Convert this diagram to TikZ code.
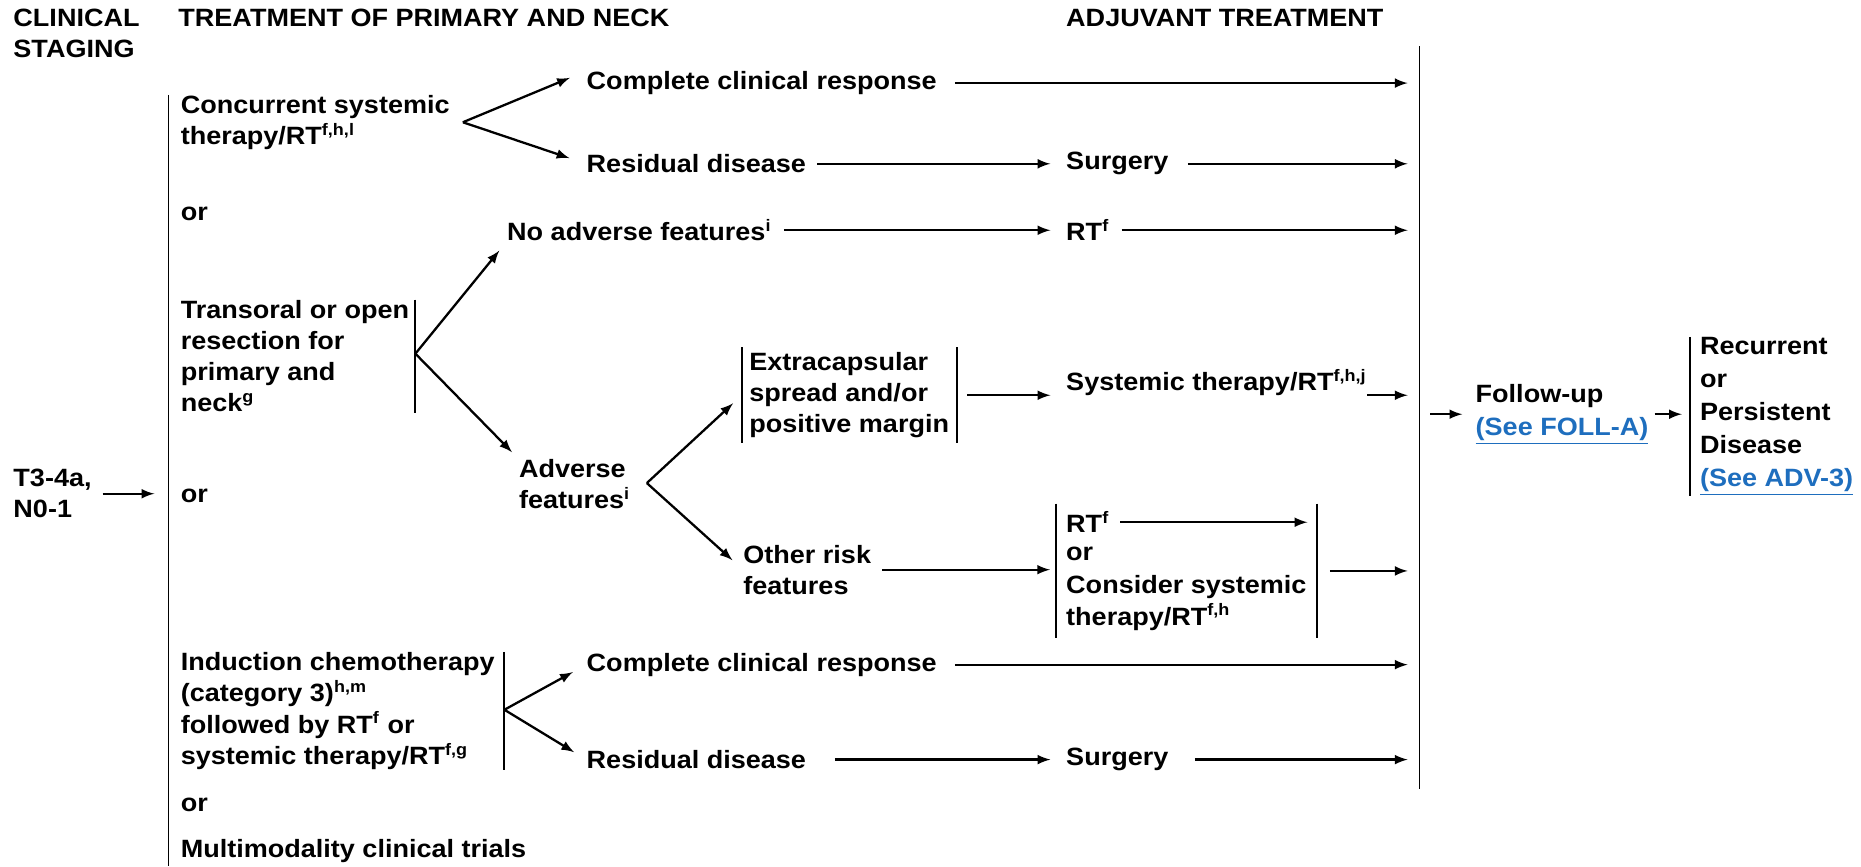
\documentclass[tikz,border=0pt]{standalone}
\usepackage{fontspec}
\setmainfont{Liberation Sans}[FakeStretch=1.08]
\usepackage{tikz}
\usetikzlibrary{fit}
\definecolor{linkblue}{RGB}{30,110,190}

\tikzset{
  txt/.style={font=\fontsize{12}{15}\selectfont\bfseries, inner sep=0pt, anchor=west, align=left},
  widetxt/.style={txt, font=\fontsize{12}{15.8}\selectfont\bfseries},
  arr/.style={->, >=latex, line width=1.1pt},
  bar/.style={line width=0.9pt}
}

\begin{document}
\begin{tikzpicture}[x=0.02cm, y=-0.02cm]
    \useasboundingbox (0,0) rectangle (1568,730);

    % 1. Column headings
    \node[txt] (hstage) at (11,28) {CLINICAL\\STAGING};
    \node[txt] (htreat) at (150,15) {TREATMENT OF PRIMARY AND NECK};
    \node[txt] (hadj) at (898,15) {ADJUVANT TREATMENT};

    % 2. Staging and the big brackets
    \node[txt] (stage) at (11,416) {T3-4a,\\N0-1};
    \coordinate (lbarT) at (142,80);
    \coordinate (lbarB) at (142,730);
    \coordinate (rbarT) at (1196,39);
    \coordinate (rbarB) at (1196,665);
    \draw[bar] (lbarT) -- (lbarB);
    \draw[bar] (rbarT) -- (rbarB);
    \draw[arr, shorten <=0.18cm, shorten >=0.24cm] (stage.east) -- (stage.east -| lbarT);

    % 3. Primary treatment options
    \node[txt] (opt1) at (152,103) {Concurrent systemic\\therapy/RT\textsuperscript{f,h,l}};
    \node[txt] (or1) at (152,180) {or};
    \node[txt] (opt2) at (152,300) {Transoral or open\\resection for\\primary and\\neck\textsuperscript{g}};
    \node[txt] (or2) at (152,418) {or};
    \node[txt] (opt3) at (152,599) {Induction chemotherapy\\(category 3)\textsuperscript{h,m}\\followed by RT\textsuperscript{f} or\\systemic therapy/RT\textsuperscript{f,g}};
    \node[txt] (or3) at (152,678) {or};
    \node[txt] (opt4) at (152,717) {Multimodality clinical trials};

    % fork points
    \coordinate (f1) at (390,103);
    \coordinate (f2) at (350,298);
    \coordinate (f3) at (545,407);
    \coordinate (f4) at (425,598);
    \draw[bar] (f2 |- opt2.north) -- (f2 |- opt2.south);
    \draw[bar] (f4 |- opt3.north) -- (f4 |- opt3.south);

    % 4. Responses and adjuvant choices
    \node[txt] (ccr1) at (494,70) {Complete clinical response};
    \node[txt] (rd1) at (494,138) {Residual disease};
    \node[txt] (surg1) at (898,138) {Surgery};
    \node[txt] (noadv) at (427,194) {No adverse features\textsuperscript{i}};
    \node[txt] (rt1) at (898,194) {RT\textsuperscript{f}};
    \node[txt] (adv) at (437,408) {Adverse\\features\textsuperscript{i}};
    \node[txt, inner xsep=0.12cm, inner ysep=0.08cm] (exc) at (625,333) {Extracapsular\\spread and/or\\positive margin};
    \node[txt] (sys) at (898,322) {Systemic therapy/RT\textsuperscript{f,h,j}};
    \node[txt] (other) at (626,480) {Other risk\\features};
    \node[txt] (rtf) at (898,440) {RT\textsuperscript{f}};
    \node[txt] (or4) at (898,467) {or};
    \node[txt] (cons) at (898,508) {Consider systemic\\therapy/RT\textsuperscript{f,h}};
    \node[fit=(rtf)(cons), inner xsep=0.16cm, inner ysep=0.12cm] (rtbox) {};
    \node[txt] (ccr2) at (494,560) {Complete clinical response};
    \node[txt] (rd2) at (494,640) {Residual disease};
    \node[txt] (surg2) at (898,640) {Surgery};

    % small brackets
    \draw[bar] (exc.north west) -- (exc.south west);
    \draw[bar] (exc.north east) -- (exc.south east);
    \draw[bar] (rtbox.north west) -- (rtbox.south west);
    \draw[bar] (rtbox.north east) -- (rtbox.south east);

    % forks
    \draw[arr, shorten >=0.3cm] (f1) -- (ccr1.north west);
    \draw[arr, shorten >=0.3cm] (f1) -- (rd1.west);
    \draw[arr, shorten >=0.2cm] (f2) -- (noadv.south west);
    \draw[arr, shorten >=0.16cm] (f2) -- (adv.north west);
    \draw[arr, shorten >=0.2cm] (f3) -- (exc.west);
    \draw[arr, shorten >=0.24cm] (f3) -- (other.west);
    \draw[arr, shorten >=0.26cm] (f4) -- (ccr2.west);
    \draw[arr, shorten >=0.24cm] (f4) -- (rd2.west);

    % rows to the adjuvant bracket
    \draw[arr, shorten <=0.3cm, shorten >=0.2cm] (ccr1.east) -- (ccr1.east -| rbarT);
    \draw[arr, shorten <=0.18cm, shorten >=0.26cm] (rd1.east) -- (surg1.west);
    \draw[arr, shorten <=0.32cm, shorten >=0.2cm] (surg1.east) -- (surg1.east -| rbarT);
    \draw[arr, shorten <=0.2cm, shorten >=0.26cm] (noadv.east) -- (noadv.east -| rt1.west);
    \draw[arr, shorten <=0.2cm, shorten >=0.2cm] (rt1.east) -- (rt1.east -| rbarT);
    \draw[arr, shorten <=0.18cm, shorten >=0.26cm] (exc.east) -- (exc.east -| sys.west);
    \draw[arr, shorten >=0.2cm] (exc.east -| sys.east) -- (exc.east -| rbarT);
    \draw[arr, shorten <=0.18cm, shorten >=0.1cm] (other.east) -- (other.east -| rtbox.west);
    \draw[arr, shorten <=0.18cm, shorten >=0.16cm] (rtf.east) -- (rtf.east -| rtbox.east);
    \draw[arr, shorten <=0.22cm, shorten >=0.2cm] (rtbox.east) -- (rtbox.east -| rbarT);
    \draw[arr, shorten <=0.3cm, shorten >=0.2cm] (ccr2.east) -- (ccr2.east -| rbarT);
    \draw[arr, shorten <=0.48cm, shorten >=0.26cm] (rd2.east) -- (surg2.west);
    \draw[arr, shorten <=0.44cm, shorten >=0.2cm] (surg2.east) -- (surg2.east -| rbarT);

    % 5. Follow-up
    \node[widetxt] (follow) at (1243,349) {Follow-up\\\textcolor{linkblue}{\underline{(See FOLL-A)}}};
    \node[widetxt] (recur) at (1432,351) {Recurrent\\or\\Persistent\\Disease\\\textcolor{linkblue}{\underline{(See ADV-3)}}};
    \draw[bar] ([xshift=-0.16cm]recur.north west) -- ([xshift=-0.16cm]recur.south west);
    \draw[arr, shorten <=0.18cm, shorten >=0.22cm] (follow.west -| rbarT) -- (follow.west);
    \draw[arr, shorten <=0.1cm, shorten >=0.3cm] (follow.east) -- (follow.east -| recur.west);

\end{tikzpicture}
\end{document}
